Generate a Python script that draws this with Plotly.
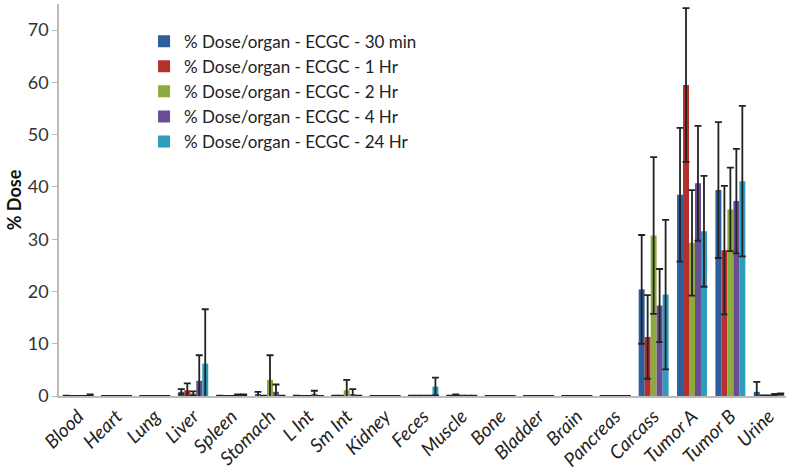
import plotly.graph_objects as go

N = float("nan")

categories = ["Blood", "Heart", "Lung", "Liver", "Spleen", "Stomach", "L Int", "Sm Int",
              "Kidney", "Feces", "Muscle", "Bone", "Bladder", "Brain", "Pancreas",
              "Carcass", "Tumor A", "Tumor B", "Urine"]

series_names = ["% Dose/organ - ECGC - 30 min", "% Dose/organ - ECGC - 1 Hr",
                "% Dose/organ - ECGC - 2 Hr", "% Dose/organ - ECGC - 4 Hr",
                "% Dose/organ - ECGC - 24 Hr"]

v_30min = [0.05, 0.02, 0.02, 0.8, 0.05, 0.3, 0.05, 0.05, 0.02, 0.05, 0.05, 0.02, 0.02, 0.02, 0.02, 20.4, 38.5, 39.4, 0.8]
e_30min = [N, N, N, 0.5, N, 0.5, N, N, N, N, N, N, N, N, N, 10.4, 12.8, 13.0, 1.9]

v_1hr = [0.02, 0.02, 0.02, 1.1, 0.02, 0.05, 0.02, 0.05, 0.02, 0.05, 0.2, 0.02, 0.02, 0.02, 0.02, 11.3, 59.5, 27.9, 0.1]
e_1hr = [N, N, N, 1.3, N, N, N, N, N, N, 0.1, N, N, N, N, 8.0, 14.7, 12.3, N]

v_2hr = [0.02, 0.02, 0.02, 0.5, 0.02, 3.1, 0.02, 1.1, 0.02, 0.05, 0.05, 0.02, 0.02, 0.02, 0.02, 30.7, 29.3, 35.7, 0.1]
e_2hr = [N, N, N, 0.4, N, 4.7, N, 2.0, N, N, N, N, N, N, N, 15.0, 10.1, 8.0, N]

v_4hr = [0.02, 0.02, 0.02, 2.9, 0.2, 0.8, 0.4, 0.3, 0.02, 0.05, 0.05, 0.02, 0.02, 0.02, 0.02, 17.3, 40.7, 37.3, 0.3]
e_4hr = [N, N, N, 4.9, 0.1, 1.4, 0.6, 1.0, N, N, N, N, N, N, N, 7.0, 11.0, 10.0, 0.1]

v_24hr = [0.2, 0.02, 0.02, 6.2, 0.2, 0.05, 0.02, 0.05, 0.02, 1.8, 0.05, 0.02, 0.02, 0.02, 0.02, 19.4, 31.5, 41.1, 0.4]
e_24hr = [0.1, N, N, 10.4, 0.1, N, N, N, N, 1.7, N, N, N, N, N, 14.3, 10.6, 14.4, 0.1]

y_ticks = [0, 10, 20, 30, 40, 50, 60, 70]

values = [v_30min, v_1hr, v_2hr, v_4hr, v_24hr]
errors = [e_30min, e_1hr, e_2hr, e_4hr, e_24hr]
colors = ["#2D5E9E", "#B3302C", "#8DAA3F", "#6A4E94", "#2E9CBC"]

fig = go.Figure()
for name, v, e, c in zip(series_names, values, errors, colors):
    fig.add_trace(go.Bar(
        x=categories, y=v, name=name,
        marker=dict(color=c, line=dict(width=0)),
        error_y=dict(type="data", array=e, visible=True, color="#222222",
                     thickness=1.8, width=3.5),
    ))

fig.update_layout(
    width=786, height=474,
    margin=dict(l=59, r=0, t=4, b=78, autoexpand=False),
    paper_bgcolor="white", plot_bgcolor="white",
    barmode="group", bargap=0.22, bargroupgap=0.0,
    font=dict(family="Lato, Open Sans, sans-serif", color="#333333"),
    showlegend=True,
    legend=dict(x=0.117, y=0.95, xanchor="left", yanchor="top",
                font=dict(size=17, color="#222222"), bgcolor="rgba(0,0,0,0)",
                traceorder="normal", itemwidth=30),
    xaxis=dict(range=[-0.5, 18.45], showline=True, linecolor="#BBBBBB", linewidth=1.5,
               ticks="", tickangle=-45, showgrid=False, automargin=False,
               tickfont=dict(size=19, style="italic", color="#222222")),
    yaxis=dict(range=[0, 75], tickvals=y_ticks, showline=True, linecolor="#BBBBBB",
               linewidth=1.5, ticks="outside", ticklen=5, tickcolor="#BBBBBB",
               showgrid=False, zeroline=False, automargin=False,
               tickfont=dict(size=18, color="#333333"),
               title=dict(text="<b>% Dose</b>", font=dict(size=18, color="#111111"),
                          standoff=1)),
)

fig.write_html("out.html", config={"displayModeBar": False},
               post_script="document.body.style.margin='0';document.body.style.padding='0';")
